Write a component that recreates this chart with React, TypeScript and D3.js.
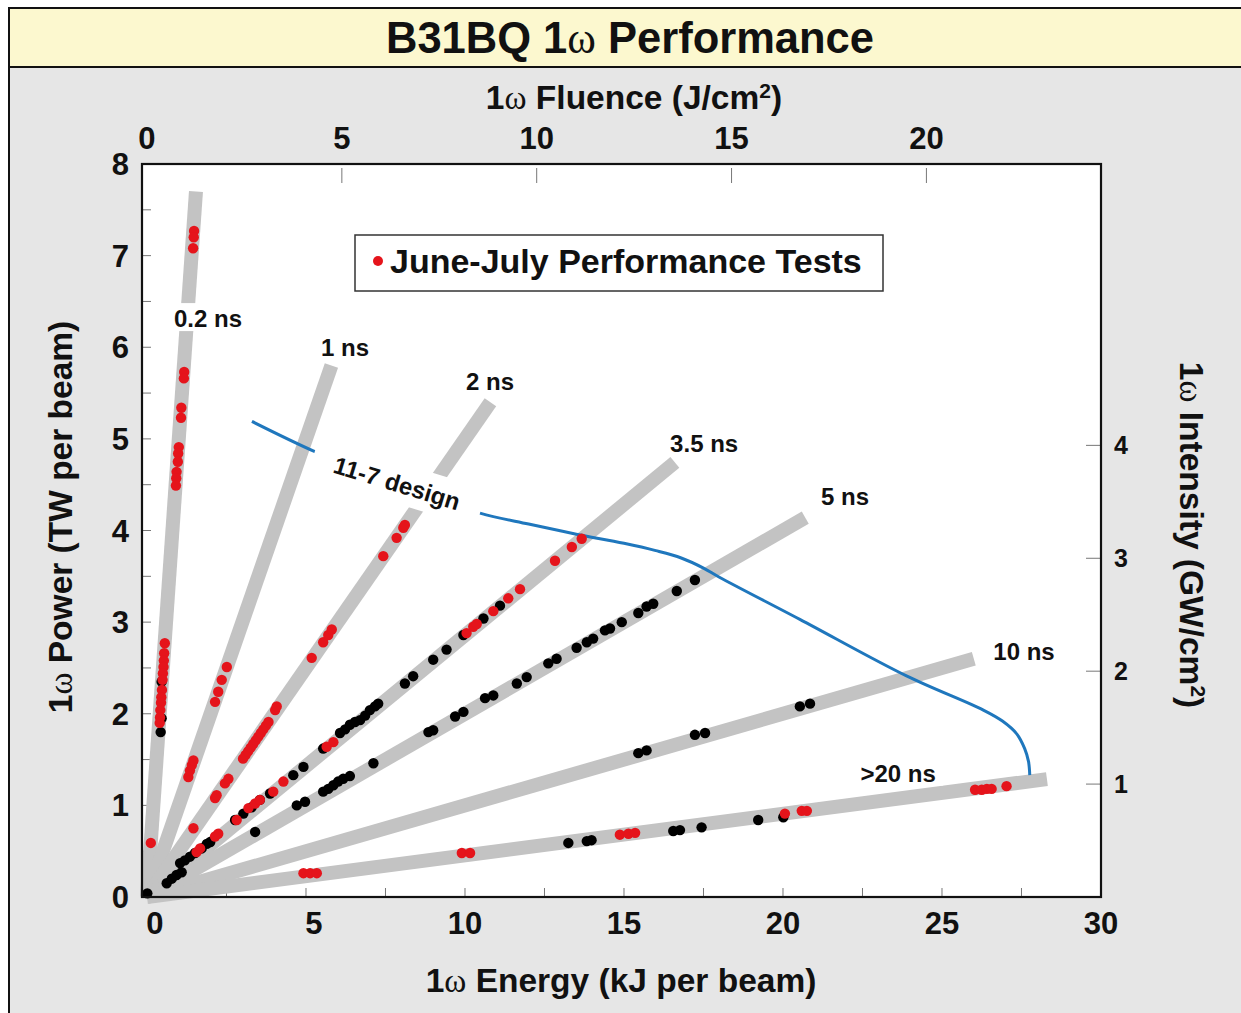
import React from "react";
import * as d3 from "d3";

type Shot = [number, number]; // [1ω energy (kJ), 1ω power (TW)]

// ---- axes -------------------------------------------------------------
const energyTicks = [0, 5, 10, 15, 20, 25, 30];
const fluenceTicks = [0, 5, 10, 15, 20];
const powerTicks = [0, 1, 2, 3, 4, 5, 6, 7, 8];
const intensityTicks = [1, 2, 3, 4];

// conversion factors of the secondary axes (per beam aperture)
const FLUENCE_PER_KJ = 0.816; // J/cm² per kJ
const INTENSITY_PER_TW = 0.8115; // GW/cm² per TW

// ---- constant pulse-length rays --------------------------------------
const pulseLabels = ["0.2 ns", "1 ns", "2 ns", "3.5 ns", "5 ns", "10 ns", ">20 ns"];
const pulseWidthsNs = [0.2, 1, 2, 3.5, 5, 10, 22];
const rayEndEnergy = [1.54, 5.8, 10.8, 16.6, 20.7, 26.0, 28.3];

// ---- 11-7 design limit curve -----------------------------------------
const designCurve: Shot[] = [
  [3.3, 5.19], [5.28, 4.86], [7.6, 4.53], [10.47, 4.19], [12.0, 4.07],
  [13.5, 3.96], [15.0, 3.86], [16.0, 3.78], [16.8, 3.7], [17.5, 3.59],
  [18.0, 3.49], [20.53, 3.03], [23.9, 2.41], [26.3, 2.04], [26.9, 1.92],
  [27.35, 1.78], [27.6, 1.62], [27.72, 1.48], [27.76, 1.33],
];

// ---- June-July performance tests (red) -------------------------------
const tests02ns: Shot[] = [
  [1.48, 7.27], [1.47, 7.2], [1.45, 7.08], [1.17, 5.73], [1.16, 5.66],
  [1.08, 5.34], [1.07, 5.23], [1.0, 4.91], [0.98, 4.84], [0.97, 4.75],
  [0.93, 4.64], [0.92, 4.57], [0.91, 4.49],
  [0.56, 2.77], [0.54, 2.66], [0.53, 2.58], [0.52, 2.51], [0.5, 2.44],
  [0.49, 2.37], [0.47, 2.26], [0.45, 2.18], [0.44, 2.12], [0.42, 2.04],
  [0.41, 1.96], [0.4, 1.9], [0.12, 0.59],
];
const tests1ns: Shot[] = [
  [1.3, 1.31], [1.35, 1.38], [1.41, 1.44], [1.46, 1.49],
  [2.14, 2.13], [2.24, 2.24], [2.35, 2.37], [2.51, 2.51],
];
const tests2ns: Shot[] = [
  [1.46, 0.75], [2.14, 1.08], [2.19, 1.11], [2.45, 1.24], [2.56, 1.29],
  [3.02, 1.51], [3.1, 1.55], [3.18, 1.59], [3.26, 1.63], [3.34, 1.67],
  [3.42, 1.71], [3.5, 1.75], [3.58, 1.79], [3.66, 1.83], [3.74, 1.87],
  [3.82, 1.91], [4.03, 2.04], [4.08, 2.08], [5.18, 2.61], [5.54, 2.78],
  [5.7, 2.86], [5.81, 2.92], [7.43, 3.72], [7.85, 3.92], [8.06, 4.03],
  [8.11, 4.06],
];
const tests35ns: Shot[] = [
  [1.56, 0.49], [1.67, 0.53], [2.14, 0.66], [2.24, 0.69], [2.82, 0.84],
  [3.19, 0.97], [3.4, 1.02], [3.55, 1.06], [3.97, 1.15], [4.29, 1.26],
  [5.65, 1.64], [5.86, 1.69], [10.05, 2.88], [10.26, 2.95], [10.37, 2.98],
  [10.89, 3.12], [11.36, 3.26], [11.73, 3.36], [12.83, 3.67], [13.36, 3.82],
  [13.67, 3.91],
];
const tests20ns: Shot[] = [
  [4.92, 0.26], [5.13, 0.26], [5.34, 0.26], [9.9, 0.48], [10.16, 0.48],
  [14.87, 0.68], [15.14, 0.69], [15.35, 0.7], [20.06, 0.91], [20.59, 0.94],
  [20.75, 0.94], [26.04, 1.17], [26.25, 1.17], [26.41, 1.18], [26.56, 1.18],
  [27.03, 1.21],
];

// ---- earlier shots (black) -------------------------------------------
const earlier02ns: Shot[] = [[0.01, 0.04], [0.46, 2.35], [0.46, 1.95], [0.43, 1.8]];
const earlier35ns: Shot[] = [
  [1.04, 0.37], [1.19, 0.4], [1.35, 0.44], [1.51, 0.48], [1.72, 0.53],
  [1.88, 0.58], [1.99, 0.6], [2.77, 0.84], [3.03, 0.91], [3.29, 0.98],
  [3.55, 1.06], [3.87, 1.13], [4.6, 1.33], [4.92, 1.42], [5.54, 1.62],
  [6.07, 1.79], [6.23, 1.83], [6.38, 1.88], [6.54, 1.91], [6.7, 1.93],
  [6.86, 1.98], [7.01, 2.04], [7.17, 2.08], [7.27, 2.11], [8.11, 2.33],
  [8.37, 2.41], [9.0, 2.59], [9.42, 2.7], [9.95, 2.86], [10.58, 3.04],
  [11.1, 3.18],
];
const earlier5ns: Shot[] = [
  [0.62, 0.15], [0.78, 0.2], [0.93, 0.24], [1.09, 0.27], [3.4, 0.71],
  [4.71, 1.0], [4.97, 1.04], [5.54, 1.15], [5.7, 1.18], [5.86, 1.22],
  [6.01, 1.26], [6.17, 1.29], [6.38, 1.32], [7.12, 1.46], [8.85, 1.8],
  [9.0, 1.82], [9.69, 1.97], [9.95, 2.02], [10.63, 2.17], [10.89, 2.2],
  [11.63, 2.33], [11.94, 2.4], [12.62, 2.55], [12.88, 2.6], [13.51, 2.72],
  [13.83, 2.78], [14.03, 2.82], [14.4, 2.91], [14.56, 2.93], [14.93, 3.0],
  [15.45, 3.1], [15.71, 3.17], [15.92, 3.2], [16.66, 3.34], [17.23, 3.46],
];
const earlier10ns: Shot[] = [
  [15.45, 1.57], [15.71, 1.6], [17.23, 1.77], [17.55, 1.79], [20.53, 2.08], [20.85, 2.11],
];
const earlier20ns: Shot[] = [
  [13.25, 0.59], [13.83, 0.61], [13.98, 0.62], [16.55, 0.72], [16.76, 0.73],
  [17.44, 0.76], [19.22, 0.84], [20.01, 0.87],
];

const juneJulyShots = [...tests02ns, ...tests1ns, ...tests2ns, ...tests35ns, ...tests20ns];
const earlierShots = [...earlier02ns, ...earlier35ns, ...earlier5ns, ...earlier10ns, ...earlier20ns];

const FONT = "'Liberation Sans', Arial, Helvetica, sans-serif";
const OMEGA_FONT = "'Liberation Serif', 'Times New Roman', serif";

const Omega = () => (
  <tspan fontFamily={OMEGA_FONT} fontWeight="normal">
    ω
  </tspan>
);

export default function App() {
  const W = 1241;
  const H = 1013;
  const plot = { left: 142, right: 1101, top: 164, bottom: 897 };

  const x = d3.scaleLinear().domain([-0.157, 30]).range([plot.left, plot.right]);
  const xFluence = d3
    .scaleLinear()
    .domain([-0.157 * FLUENCE_PER_KJ, 30 * FLUENCE_PER_KJ])
    .range([plot.left, plot.right]);
  const y = d3.scaleLinear().domain([0, 8]).range([plot.bottom, plot.top]);
  const yIntensity = d3
    .scaleLinear()
    .domain([0, 8 * INTENSITY_PER_TW])
    .range([plot.bottom, plot.top]);

  const designPath = d3
    .line<Shot>()
    .x((d) => x(d[0]))
    .y((d) => y(d[1]))
    .curve(d3.curveCatmullRom.alpha(0.5))(designCurve) as string;

  // label anchors in data units (energy, power): text centre / baseline
  const labelAnchors: Shot[] = [
    [1.92, 6.22], [6.23, 5.9], [10.79, 5.53], [17.52, 4.86],
    [21.95, 4.28], [27.58, 2.59], [23.62, 1.26],
  ];
  const labelSize = 24;
  const approxWidth = (s: string) => s.length * 0.57 * labelSize;

  const designAnchor: Shot = [7.86, 4.51];

  const minorEnergy = d3.range(2.5, 30, 2.5);
  const minorPower = d3.range(0.5, 8, 0.5);

  return (
    <svg
      width={W}
      height={H}
      style={{ position: "fixed", left: 0, top: 0 }}
      fontFamily={FONT}
      fontWeight="bold"
    >
      <rect x={0} y={0} width={W} height={H} fill="#ffffff" />
      {/* outer panel */}
      <rect x={9} y={8} width={W + 40} height={H + 40} fill="#e6e6e6" stroke="#111" strokeWidth={2} />
      {/* title band */}
      <rect x={9} y={8} width={W + 40} height={59} fill="#fcf8cf" stroke="#111" strokeWidth={2} />
      <text x={630} y={53} fontSize={43.5} textAnchor="middle" fill="#111">
        B31BQ 1<Omega /> Performance
      </text>

      {/* plot area */}
      <rect
        x={plot.left}
        y={plot.top}
        width={plot.right - plot.left}
        height={plot.bottom - plot.top}
        fill="#ffffff"
      />

      {/* inward tick marks */}
      <g stroke="#777" strokeWidth={1}>
        {minorPower.map((p) => (
          <line key={"lp" + p} x1={plot.left} x2={plot.left + 9} y1={y(p)} y2={y(p)} />
        ))}
        {minorEnergy.map((e) => (
          <line key={"be" + e} x1={x(e)} x2={x(e)} y1={plot.bottom} y2={plot.bottom - 9} />
        ))}
        {fluenceTicks
          .filter((f) => f > 0)
          .map((f) => (
            <line key={"tf" + f} x1={xFluence(f)} x2={xFluence(f)} y1={plot.top + 4} y2={plot.top + 19} />
          ))}
        {intensityTicks.map((i) => (
          <line key={"ri" + i} x1={plot.right - 15} x2={plot.right} y1={yIntensity(i)} y2={yIntensity(i)} />
        ))}
      </g>

      {/* pulse-length rays */}
      <g stroke="#c3c3c3" strokeWidth={14} strokeLinecap="butt">
        {pulseWidthsNs.map((tau, i) => (
          <line
            key={"ray" + i}
            x1={x(0)}
            y1={y(0)}
            x2={x(rayEndEnergy[i])}
            y2={y(rayEndEnergy[i] / tau)}
          />
        ))}
      </g>

      {/* 11-7 design curve */}
      <path d={designPath} fill="none" stroke="#1f77bd" strokeWidth={3} />

      {/* ray labels */}
      {pulseLabels.map((lab, i) => {
        const cx = x(labelAnchors[i][0]);
        const by = y(labelAnchors[i][1]);
        const w = approxWidth(lab) + 8;
        return (
          <g key={"lab" + i}>
            <rect x={cx - w / 2} y={by - 24} width={w} height={28} fill="#ffffff" />
            <text x={cx} y={by} fontSize={labelSize} textAnchor="middle" fill="#111">
              {lab}
            </text>
          </g>
        );
      })}
      <g transform={`translate(${x(designAnchor[0])},${y(designAnchor[1])}) rotate(17)`}>
        <rect x={-88} y={-21} width={176} height={40} fill="#ffffff" />
        <text x={0} y={8} fontSize={24} textAnchor="middle" fill="#111">
          11-7 design
        </text>
      </g>

      {/* shots */}
      <g fill="#000">
        {earlierShots.map((d, i) => (
          <circle key={"b" + i} cx={x(d[0])} cy={y(d[1])} r={5.2} />
        ))}
      </g>
      <g fill="#e5141b">
        {juneJulyShots.map((d, i) => (
          <circle key={"r" + i} cx={x(d[0])} cy={y(d[1])} r={5.2} />
        ))}
      </g>

      {/* plot frame */}
      <rect
        x={plot.left}
        y={plot.top}
        width={plot.right - plot.left}
        height={plot.bottom - plot.top}
        fill="none"
        stroke="#111"
        strokeWidth={2.2}
      />

      {/* legend */}
      <rect x={355} y={235} width={528} height={56} fill="#ffffff" stroke="#333" strokeWidth={1.5} />
      <circle cx={378} cy={261} r={5} fill="#e5141b" />
      <text x={390} y={273} fontSize={34} fill="#111">
        June-July Performance Tests
      </text>

      {/* bottom energy axis */}
      {energyTicks.map((e) => (
        <text
          key={"et" + e}
          x={x(e) + (e < 10 ? 8 : 0)}
          y={934}
          fontSize={31}
          textAnchor="middle"
          fill="#111"
        >
          {e}
        </text>
      ))}
      <text x={621} y={992} fontSize={33.5} textAnchor="middle" fill="#111">
        1<Omega /> Energy (kJ per beam)
      </text>

      {/* top fluence axis */}
      {fluenceTicks.map((f) => (
        <text key={"ft" + f} x={xFluence(f)} y={149} fontSize={31} textAnchor="middle" fill="#111">
          {f}
        </text>
      ))}
      <text x={634} y={109} fontSize={33.5} textAnchor="middle" fill="#111">
        1<Omega /> Fluence (J/cm
        <tspan dy={-11} fontSize={21}>
          2
        </tspan>
        <tspan dy={11}>)</tspan>
      </text>

      {/* left power axis */}
      {powerTicks.map((p) => (
        <text key={"pt" + p} x={129} y={y(p) + 11} fontSize={31} textAnchor="end" fill="#111">
          {p}
        </text>
      ))}
      <text transform="translate(72,517) rotate(-90)" fontSize={33.5} textAnchor="middle" fill="#111">
        1<Omega /> Power (TW per beam)
      </text>

      {/* right intensity axis */}
      {intensityTicks.map((v) => (
        <text key={"it" + v} x={1114} y={yIntensity(v) + 9} fontSize={25} fill="#111">
          {v}
        </text>
      ))}
      <text transform="translate(1180,535) rotate(90)" fontSize={33.5} textAnchor="middle" fill="#111">
        1<Omega /> Intensity (GW/cm
        <tspan dy={-11} fontSize={21}>
          2
        </tspan>
        <tspan dy={11}>)</tspan>
      </text>
    </svg>
  );
}
